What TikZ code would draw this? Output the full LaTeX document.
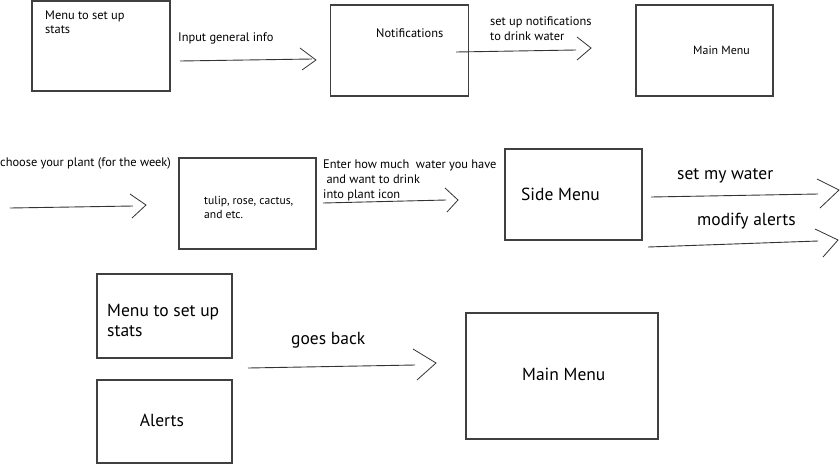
\documentclass[tikz,border=0pt]{standalone}
\usepackage{fontspec}
\setmainfont{PT Sans}
\begin{document}
\begin{tikzpicture}[x=1pt,y=-1pt,
  box/.style={draw=black!75, line width=1.1pt, inner sep=0pt, outer sep=0pt},
  conn/.style={draw=black!80, line width=0.9pt},
  chev/.style={draw=black!80, line width=0.8pt, line join=miter},
  txt/.style={inner sep=0pt, anchor=west, align=left, text=black},
  small/.style={font=\fontsize{12.4}{14.5}\selectfont},
  big/.style={font=\fontsize{17.5}{20}\selectfont}]
\useasboundingbox (0,0) rectangle (840,464);
\fill[white] (0,0) rectangle (840,464);
% ---- boxes ----
\node[box, minimum width=138pt, minimum height=90pt] (b1) at (101,46) {};
\node[box, minimum width=138pt, minimum height=91pt] (b2) at (399.5,50.5) {};
\node[box, minimum width=137pt, minimum height=91pt] (b3) at (704.5,50.5) {};
\node[box, minimum width=137pt, minimum height=91pt] (b4) at (247.5,203.5) {};
\node[box, minimum width=137pt, minimum height=91pt] (b5) at (573.5,194.5) {};
\node[box, minimum width=135pt, minimum height=84pt] (b6) at (164.5,316) {};
\node[box, minimum width=135pt, minimum height=83pt] (b7) at (164.5,421.5) {};
\node[box, minimum width=192pt, minimum height=126pt] (b8) at (562,376) {};
% ---- texts in boxes ----
\node[txt, small, font=\fontsize{12.4}{14}\selectfont, anchor=north west] (t1) at (45,11) {Menu to set up\\stats};
\node[txt, small] (t2) at (376,33) {Notifications};
\node[txt, font=\fontsize{11.9}{14}\selectfont] (t3) at (693,50) {Main Menu};
\node[txt, font=\fontsize{11.6}{14}\selectfont] (t4) at (204,207) {tulip, rose, cactus,\\and etc.};
\node[txt, big] (t5) at (521,194) {Side Menu};
\node[txt, big] (t6) at (107,320) {Menu to set up\\stats};
\node[txt, big, anchor=center] (t7) at (162,420) {Alerts};
\node[txt, big] (t8) at (522,374) {Main Menu};
% ---- connector labels ----
\node[txt, small] (l1) at (178,38) {Input general info};
\node[txt, small, font=\fontsize{12.4}{15}\selectfont] (l2) at (490,29) {set up notifications\\to drink water};
\node[txt, small] (l3) at (0,163) {choose your plant (for the week)};
\node[txt, small, font=\fontsize{12.4}{15}\selectfont] (l4) at (323,180) {Enter how much\ \ water you have\\\ and want to drink\\into plant icon};
\node[txt, big] (l5) at (677,176) {set my water};
\node[txt, big] (l6) at (697,221) {modify alerts};
\node[txt, big] (l7) at (291,340) {goes back};
% ---- connectors ----
\coordinate (a1s) at (180,61);  \coordinate (a1e) at (312,59);
\coordinate (a2s) at (456,52);  \coordinate (a2e) at (576,50);
\coordinate (a3s) at (10,208);  \coordinate (a3e) at (133,206);
\coordinate (a4s) at (323,203); \coordinate (a4e) at (446,200);
\coordinate (a5s) at (651,197); \coordinate (a5e) at (818,194);
\coordinate (a6s) at (648,247); \coordinate (a6e) at (818,241);
\coordinate (a7s) at (248,368); \coordinate (a7e) at (415,365);
\draw[conn] (a1s) -- (a1e);
\draw[conn] (a2s) -- (a2e);
\draw[conn] (a3s) -- (a3e);
\draw[conn] (a4s) -- (a4e);
\draw[conn] (a5s) -- (a5e);
\draw[conn] (a6s) -- (a6e);
\draw[conn] (a7s) -- (a7e);
% ---- open chevron heads ----
\draw[chev] (300,48) -- (316,60) -- (302,70);
\draw[chev] (577,37) -- (591,48) -- (577,60);
\draw[chev] (130,194) -- (146,205) -- (132,218);
\draw[chev] (445,188) -- (458,200) -- (447,212);
\draw[chev] (817,179) -- (839,190) -- (820,208);
\draw[chev] (815,229) -- (838,240) -- (823,257);
\draw[chev] (413,349) -- (436,363) -- (417,380);
\end{tikzpicture}
\end{document}
